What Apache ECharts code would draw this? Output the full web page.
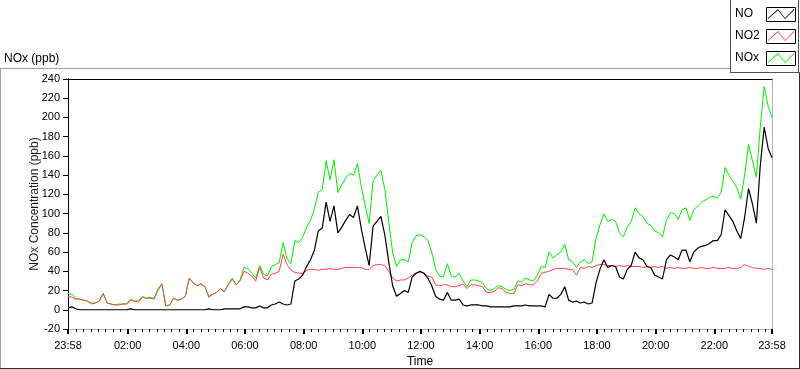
<!DOCTYPE html>
<html><head><meta charset="utf-8">
<script src="https://cdn.jsdelivr.net/npm/echarts@6/dist/echarts.min.js"></script>
<style>html,body{margin:0;padding:0;background:#fff}#c{width:800px;height:369px}</style>
</head><body><div id="c"></div>
<script>
// minutes elapsed since 23:58, sampled every 8 minutes
const sampleStepMin = 8;

const noxValues = [
 17,16,12,11,10,9,7,7,9,17, 7,6,5,6,6,6,11,9,9,14, 12,13,12,22,27,4,5,12,10,11,
 14,33,28,25,27,24,14,16,18,22, 19,27,33,26,31,44,43,38,33,46, 37,35,45,47,49,70,53,48,72,70,
 75,86,93,105,122,125,155,135,156,122, 130,137,142,140,152,128,108,90,134,140,
 145,125,92,60,45,52,52,50,70,77, 78,76,72,60,42,35,34,48,35,34,
 38,30,24,31,31,30,28,22,20,22, 25,24,21,20,21,30,29,33,31,30,
 36,45,44,60,54,57,60,68,52,50, 44,50,52,48,50,74,88,100,92,94,
 92,80,76,86,92,106,100,97,90,88, 82,80,76,93,101,100,94,104,106,93,
 104,108,112,114,117,118,116,122,148,140, 134,127,115,140,172,155,138,190,232,212,
 200
];
const no2Values = [
 14,13,11,11,10,9,6,7,9,17, 7,6,5,5,6,6,10,9,8,13, 12,12,11,20,27,4,5,12,10,11,
 14,33,28,25,27,24,13,16,18,22, 19,26,32,26,30,40,38,35,30,44, 33,31,37,38,40,58,47,41,39,38,
 38,41,42,42,41,42,42,43,42,42, 43,44,44,44,44,44,42,42,46,47,
 47,46,40,33,30,31,31,33,36,38, 39,38,35,34,26,25,26,26,24,24,
 25,27,22,26,26,25,24,18,18,19, 23,22,18,17,17,26,25,27,26,26,
 30,38,39,40,42,43,43,43,42,42, 36,44,43,45,44,46,47,47,46,46,
 45,46,45,46,45,45,45,44,45,44, 45,44,45,43,44,43,44,43,43,44,
 43,43,44,43,43,44,43,43,43,44, 43,43,44,47,45,44,43,43,42,43,
 42
];
const noValues = [
 2,3,1,0,0,0,0,0,0,0, 0,0,0,0,0,0,1,0,0,0, 0,0,0,0,0,0,0,0,0,0,
 0,0,0,0,0,0,1,0,0,0, 1,1,1,1,1,3,3,2,2,4, 2,2,5,6,8,6,5,6,30,32,
 36,45,52,62,82,85,112,92,108,80, 86,93,99,96,108,84,64,46,87,92,
 97,78,50,25,14,17,20,18,34,38, 40,38,33,25,14,11,10,18,10,10,
 11,5,4,5,5,5,4,4,3,3, 3,3,3,3,4,4,4,5,4,4,
 4,4,3,16,12,12,16,24,10,8, 9,7,8,6,7,28,42,52,44,46,
 45,34,32,42,46,60,54,52,45,44, 36,34,32,52,57,55,52,62,62,50,
 60,64,66,67,69,72,72,78,104,98, 92,82,74,96,126,110,90,150,190,168,
 158
];

const seriesNames = ['NO', 'NO2', 'NOx'];
const xTickMinutes = [0,122,242,362,482,602,722,842,962,1082,1202,1322,1440];
const xTickLabels = ['23:58','02:00','04:00','06:00','08:00','10:00','12:00','14:00','16:00','18:00','20:00','22:00','23:58'];
const yTicks = [-20,0,20,40,60,80,100,120,140,160,180,200,220,240];

const FONT = '"Liberation Sans", Arial, sans-serif';
const minorTicks = [];
for (let m = 17; m < 1440; m += 15) { if (xTickMinutes.indexOf(m) < 0) minorTicks.push(m); }

const toPairs = arr => arr.map((v, i) => [i * sampleStepMin, v]);
const zig = 'path://M0,12.6 L10,0 L17,12.6 L26,0 L26,1.6 L17,14 L10,1.6 L0,14 Z';

const chart = echarts.init(document.getElementById('c'), null, {renderer: 'canvas'});
chart.setOption({
  animation: false,
  backgroundColor: '#fff',
  title: {text: 'NOx (ppb)', left: 4, top: 53, padding: 0,
    textStyle: {fontSize: 12, fontWeight: 'normal', color: '#000', fontFamily: FONT}},
  legend: {
    orient: 'vertical', left: 735, top: 7, padding: 0, itemGap: 8,
    itemWidth: 26, itemHeight: 10, align: 'right', icon: zig, symbolKeepAspect: false,
    selectedMode: false, data: seriesNames,
    itemStyle: {borderWidth: 0},
    formatter: name => '{a|' + name + '}',
    textStyle: {fontSize: 12, color: '#000', fontFamily: FONT, lineHeight: 14,
      rich: {a: {width: 28, align: 'left', fontSize: 12, color: '#000', fontFamily: FONT, lineHeight: 14}}}
  },
  grid: {left: 68, top: 79, width: 704, height: 250, containLabel: false, outerBoundsMode: 'none'},
  xAxis: [
    {type: 'value', min: 0, max: 1440, position: 'bottom',
     axisLine: {show: true, onZero: false, lineStyle: {color: '#b4b4b4', width: 1}},
     axisTick: {show: true, customValues: xTickMinutes, length: 5, lineStyle: {color: '#000', width: 2}},
     axisLabel: {customValues: xTickMinutes, margin: 11, fontSize: 11, color: '#000', fontFamily: FONT,
       formatter: v => { const i = xTickMinutes.indexOf(v); return i >= 0 ? xTickLabels[i] : ''; }},
     splitLine: {show: false},
     name: 'Time', nameLocation: 'middle', nameGap: 33, nameMoveOverlap: false,
     nameTextStyle: {fontSize: 12, color: '#000', fontFamily: FONT, verticalAlign: 'middle'}},
    {type: 'value', min: 0, max: 1440, position: 'bottom',
     axisLine: {show: false, onZero: false},
     axisTick: {show: true, customValues: minorTicks, length: 3, lineStyle: {color: '#000', width: 1}},
     axisLabel: {show: false}, splitLine: {show: false}},
    {type: 'value', min: 0, max: 1440, position: 'top',
     axisLine: {show: true, onZero: false, lineStyle: {color: '#000', width: 1}},
     axisTick: {show: false}, axisLabel: {show: false}, splitLine: {show: false}}
  ],
  yAxis: [
    {type: 'value', min: yTicks[0], max: yTicks[yTicks.length - 1], interval: 20, position: 'left',
     axisLine: {show: true, onZero: false, lineStyle: {color: '#000', width: 1}},
     axisTick: {show: true, length: 5, lineStyle: {color: '#000', width: 1}},
     axisLabel: {margin: 8, fontSize: 11, color: '#000', fontFamily: FONT},
     splitLine: {show: false},
     name: 'NOx Concentration (ppb)', nameLocation: 'middle', nameGap: 27, nameMoveOverlap: false,
     nameTextStyle: {fontSize: 12, color: '#1a1a1a', fontFamily: FONT}},
    {type: 'value', min: -20, max: 240, interval: 20, position: 'right',
     axisLine: {show: true, onZero: false, lineStyle: {color: '#b4b4b4', width: 1}},
     axisTick: {show: false}, axisLabel: {show: false}, splitLine: {show: false}}
  ],
  series: [
    {name: 'NO', type: 'line', data: toPairs(noValues), showSymbol: false, z: 4,
     color: '#000000', lineStyle: {width: 1.2, color: '#000000'}},
    {name: 'NO2', type: 'line', data: toPairs(no2Values), showSymbol: false, z: 3,
     color: '#ff4444', lineStyle: {width: 1, color: '#ff4444'}},
    {name: 'NOx', type: 'line', data: toPairs(noxValues), showSymbol: false, z: 2,
     color: '#00f000', lineStyle: {width: 1, color: '#00f000'}}
  ],
  graphic: [
    {type: 'line', shape: {x1: 0, y1: 68.5, x2: 730, y2: 68.5}, style: {stroke: '#a0a0a0', lineWidth: 1}},
    {type: 'line', shape: {x1: 0.5, y1: 68, x2: 0.5, y2: 369}, style: {stroke: '#a0a0a0', lineWidth: 1}},
    {type: 'line', shape: {x1: 0, y1: 368.5, x2: 800, y2: 368.5}, style: {stroke: '#303030', lineWidth: 1}},
    {type: 'line', shape: {x1: 799.5, y1: 72, x2: 799.5, y2: 369}, style: {stroke: '#303030', lineWidth: 1}},
    {type: 'line', shape: {x1: 730.5, y1: 0, x2: 730.5, y2: 72}, style: {stroke: '#505050', lineWidth: 1}},
    {type: 'line', shape: {x1: 730, y1: 72.5, x2: 800, y2: 72.5}, style: {stroke: '#505050', lineWidth: 1}},
    {type: 'line', shape: {x1: 798.5, y1: 0, x2: 798.5, y2: 72}, style: {stroke: '#505050', lineWidth: 1}},
    {type: 'line', shape: {x1: 68.5, y1: 78.5, x2: 68.5, y2: 330}, style: {stroke: '#000', lineWidth: 1}},
    {type: 'line', shape: {x1: 772.5, y1: 78.5, x2: 772.5, y2: 330}, style: {stroke: '#a8a8a8', lineWidth: 1}},
    {type: 'rect', shape: {x: 766.5, y: 7.5, width: 29, height: 14}, style: {fill: 'none', stroke: '#000', lineWidth: 1}},
    {type: 'rect', shape: {x: 766.5, y: 29.5, width: 29, height: 14}, style: {fill: 'none', stroke: '#000', lineWidth: 1}},
    {type: 'rect', shape: {x: 766.5, y: 51.5, width: 29, height: 14}, style: {fill: 'none', stroke: '#000', lineWidth: 1}}
  ]
});
</script></body></html>
